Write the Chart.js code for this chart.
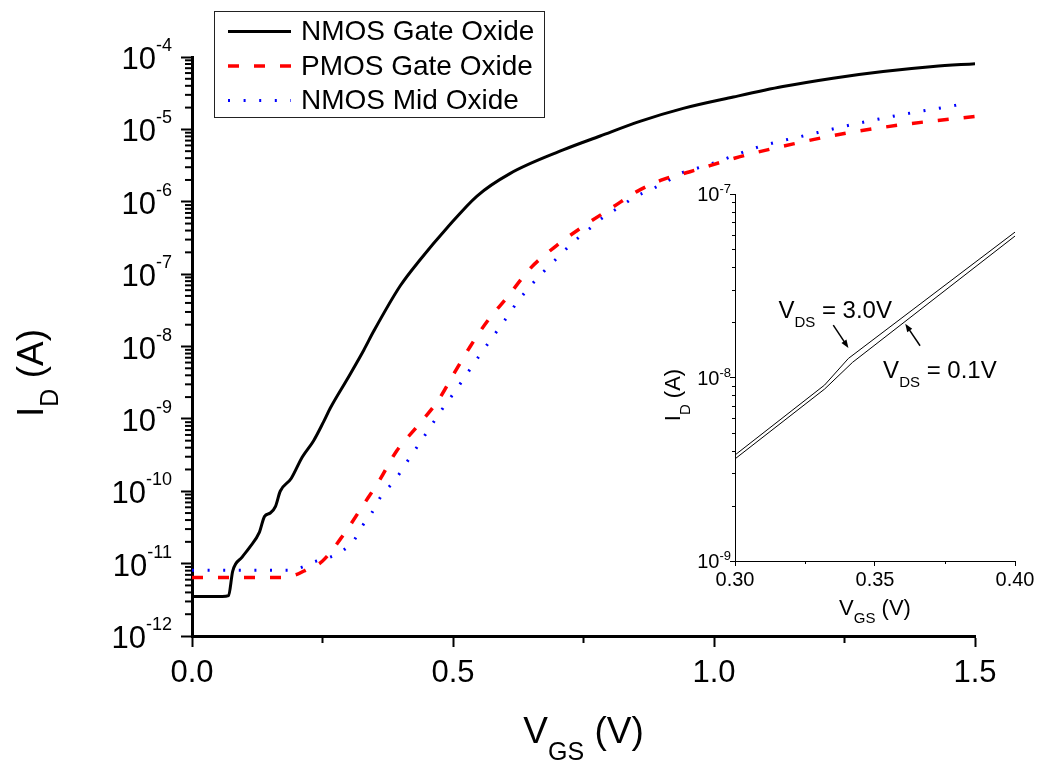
<!DOCTYPE html>
<html>
<head>
<meta charset="utf-8">
<title>ID vs VGS</title>
<script src="https://cdn.jsdelivr.net/npm/chart.js@4"></script>
<style>
html, body { margin: 0; padding: 0; background: #fff; }
#wrap { position: relative; width: 1039px; height: 763px; }
#mainChart { position: absolute; left: 0; top: 0; }
#insetChart { position: absolute; left: 640px; top: 170px; }
</style>
</head>
<body>
<div id="wrap">
  <canvas id="mainChart" width="1039" height="763"></canvas>
  <canvas id="insetChart" width="399" height="460"></canvas>
</div>
<script>
// ---- main plot data ----
const seriesNames = ['NMOS Gate Oxide', 'PMOS Gate Oxide', 'NMOS Mid Oxide'];

const vgsNmosGate = [0, 0.058, 0.07, 0.078, 0.096, 0.11, 0.129, 0.139, 0.15, 0.16, 0.169, 0.19, 0.211, 0.233, 0.252, 0.265, 0.297, 0.329, 0.348, 0.399, 0.437, 0.488, 0.546, 0.609, 0.711, 0.782, 0.858, 0.941, 1.037, 1.132, 1.228, 1.324, 1.42, 1.5];
const idNmosGate = [3.5e-12, 3.5e-12, 3.6e-12, 7.9e-12, 1.23e-11, 1.66e-11, 2.7e-11, 4.5e-11, 5.0e-11, 6.2e-11, 1.0e-10, 1.5e-10, 2.95e-10, 5.0e-10, 9.1e-10, 1.41e-9, 3.5e-9, 8.9e-9, 1.62e-8, 6.9e-8, 1.58e-7, 4.3e-7, 1.2e-6, 2.45e-6, 5.2e-6, 8.1e-6, 1.29e-5, 1.95e-5, 2.8e-5, 3.9e-5, 5.1e-5, 6.3e-5, 7.4e-5, 8.1e-5];

const vgsPmosGate = [0, 0.169, 0.201, 0.22, 0.249, 0.29, 0.329, 0.36, 0.392, 0.431, 0.472, 0.504, 0.533, 0.565, 0.603, 0.648, 0.699, 0.75, 0.807, 0.852, 0.903, 0.954, 1.05, 1.152, 1.247, 1.356, 1.5];
const idPmosGate = [6.45e-12, 6.45e-12, 7.1e-12, 8.3e-12, 1.07e-11, 2.5e-11, 6.6e-11, 1.45e-10, 3.6e-10, 7.8e-10, 1.82e-9, 4.5e-9, 1.0e-8, 2.2e-8, 4.7e-8, 1.2e-7, 2.5e-7, 4.6e-7, 8.5e-7, 1.38e-6, 2.04e-6, 2.6e-6, 4.2e-6, 6.3e-6, 8.7e-6, 1.15e-5, 1.51e-5];

const vgsNmosMid = [0, 0.19, 0.21, 0.236, 0.265, 0.287, 0.309, 0.325, 0.345, 0.362, 0.381, 0.399, 0.415, 0.435, 0.455, 0.475, 0.496, 0.517, 0.537, 0.557, 0.579, 0.601, 0.622, 0.648, 0.673, 0.702, 0.73, 0.759, 0.789, 0.82, 0.849, 0.88, 0.909, 0.938, 0.967, 0.998, 1.088, 1.177, 1.266, 1.356, 1.445, 1.477];
const idNmosMid = [8.1e-12, 8.1e-12, 8.9e-12, 1.07e-11, 1.23e-11, 1.48e-11, 2.04e-11, 3.2e-11, 5.1e-11, 8.5e-11, 1.23e-10, 1.82e-10, 2.75e-10, 4.5e-10, 7.4e-10, 1.23e-9, 2.0e-9, 3.3e-9, 5.4e-9, 8.7e-9, 1.45e-8, 2.4e-8, 4.0e-8, 6.8e-8, 1.07e-7, 1.74e-7, 2.75e-7, 4.1e-7, 6.2e-7, 8.5e-7, 1.17e-6, 1.48e-6, 1.9e-6, 2.5e-6, 2.9e-6, 3.4e-6, 5.8e-6, 8.3e-6, 1.17e-5, 1.58e-5, 2.04e-5, 2.24e-5];

// main axes ticks
const xMajor = [0, 0.5, 1.0, 1.5];
const xMajorLabels = ['0.0', '0.5', '1.0', '1.5'];
const xMinor = [0.25, 0.75, 1.25];
const yDecades = [-12, -11, -10, -9, -8, -7, -6, -5, -4];

// ---- inset data ----
const insetNames = ['V_DS = 3.0V', 'V_DS = 0.1V'];
const vgsVds30 = [0.300, 0.332, 0.3405, 0.400];
const idVds30 = [3.78e-9, 9.1e-9, 1.27e-8, 6.2e-8];
const vgsVds01 = [0.300, 0.332, 0.342, 0.400];
const idVds01 = [3.6e-9, 8.65e-9, 1.21e-8, 5.9e-8];

const insetXMajor = [0.30, 0.35, 0.40];
const insetXLabels = ['0.30', '0.35', '0.40'];
const insetXMinor = [0.325, 0.375];
const insetDecades = [-9, -8, -7];

const FONT = '"Liberation Sans", Arial, sans-serif';

function pts(xs, ys) { return xs.map((x, i) => ({ x: x, y: ys[i] })); }

function line(ctx, x1, y1, x2, y2) {
  ctx.beginPath(); ctx.moveTo(x1, y1); ctx.lineTo(x2, y2); ctx.stroke();
}

// "10" with raised exponent, right aligned at xRight
function drawPower(ctx, xRight, y, exp, fBase, fSup, baseDy, supDy) {
  const sup = String(exp);
  ctx.font = fBase + 'px ' + FONT; const wb = ctx.measureText('10').width;
  ctx.font = fSup + 'px ' + FONT; const ws = ctx.measureText(sup).width;
  const x0 = xRight - wb - ws;
  ctx.textAlign = 'left'; ctx.textBaseline = 'alphabetic';
  ctx.font = fBase + 'px ' + FONT; ctx.fillText('10', x0, y + baseDy);
  ctx.font = fSup + 'px ' + FONT; ctx.fillText(sup, x0 + wb, y + supDy);
}

// text pieces with subscripts: [text, size, dy]
function drawParts(ctx, parts, x, y, align) {
  let total = 0;
  const ws = parts.map(p => { ctx.font = p[1] + 'px ' + FONT; const w = ctx.measureText(p[0]).width; total += w; return w; });
  let cx = align === 'left' ? x : x - total / 2;
  ctx.textAlign = 'left'; ctx.textBaseline = 'alphabetic';
  parts.forEach((p, i) => { ctx.font = p[1] + 'px ' + FONT; ctx.fillText(p[0], cx, y + p[2]); cx += ws[i]; });
}

function arrow(ctx, x1, y1, x2, y2) {
  const a = Math.atan2(y2 - y1, x2 - x1), len = 8, half = 3;
  ctx.beginPath(); ctx.moveTo(x1, y1); ctx.lineTo(x2 - Math.cos(a) * len * 0.8, y2 - Math.sin(a) * len * 0.8); ctx.stroke();
  ctx.beginPath();
  ctx.moveTo(x2, y2);
  ctx.lineTo(x2 - Math.cos(a) * len - Math.sin(a) * half, y2 - Math.sin(a) * len + Math.cos(a) * half);
  ctx.lineTo(x2 - Math.cos(a) * len + Math.sin(a) * half, y2 - Math.sin(a) * len - Math.cos(a) * half);
  ctx.closePath(); ctx.fill();
}

const mainDecor = {
  id: 'mainDecor',
  afterDraw(chart) {
    const ctx = chart.ctx, xs = chart.scales.x, ys = chart.scales.y, area = chart.chartArea;
    ctx.save();
    ctx.strokeStyle = '#000'; ctx.fillStyle = '#000'; ctx.lineWidth = 2;
    // minor ticks
    yDecades.slice(0, -1).forEach(e => {
      for (let m = 2; m <= 9; m++) {
        const py = ys.getPixelForValue(m * Math.pow(10, e));
        line(ctx, area.left - 7, py, area.left, py);
      }
    });
    xMinor.forEach(v => { const px = xs.getPixelForValue(v); line(ctx, px, area.bottom, px, area.bottom + 7); });
    // tick labels
    yDecades.forEach(e => drawPower(ctx, area.left - 20, ys.getPixelForValue(Math.pow(10, e)), e, 31, 18, 12, -6));
    ctx.font = '31px ' + FONT; ctx.textAlign = 'center'; ctx.textBaseline = 'alphabetic';
    xMajor.forEach((v, i) => ctx.fillText(xMajorLabels[i], xs.getPixelForValue(v), area.bottom + 46));
    // axis titles
    drawParts(ctx, [['V', 37, 0], ['GS', 25, 17], [' (V)', 37, 0]], (area.left + area.right) / 2, area.bottom + 107);
    ctx.save();
    ctx.translate(43, 373); ctx.rotate(-Math.PI / 2);
    drawParts(ctx, [['I', 37, 0], ['D', 25, 15], [' (A)', 37, 0]], 0, 0);
    ctx.restore();
    // legend
    ctx.lineWidth = 1; ctx.strokeStyle = '#222';
    ctx.strokeRect(214.5, 11.5, 330, 106);
    const ds = chart.data.datasets;
    ds.forEach((d, i) => {
      const by = 40 + i * 34.5, ly = by - 8.5;
      ctx.save();
      ctx.strokeStyle = d.borderColor; ctx.lineWidth = d.borderWidth;
      ctx.setLineDash(d.borderDash || []);
      line(ctx, 228, ly, 291, ly);
      ctx.restore();
      ctx.fillStyle = '#000'; ctx.font = '28px ' + FONT; ctx.textAlign = 'left';
      ctx.fillText(d.label, 301, by);
    });
    ctx.restore();
  }
};

const mainChart = new Chart(document.getElementById('mainChart'), {
  type: 'line',
  data: {
    datasets: [
      { label: seriesNames[0], data: pts(vgsNmosGate, idNmosGate), borderColor: '#000000', borderWidth: 3, pointRadius: 0, cubicInterpolationMode: 'monotone', fill: false },
      { label: seriesNames[1], data: pts(vgsPmosGate, idPmosGate), borderColor: '#ff0000', borderWidth: 3.5, borderDash: [11, 15], pointRadius: 0, cubicInterpolationMode: 'monotone', fill: false },
      { label: seriesNames[2], data: pts(vgsNmosMid, idNmosMid), borderColor: '#0000ff', borderWidth: 3, borderDash: [2, 13.6], pointRadius: 0, cubicInterpolationMode: 'monotone', fill: false }
    ]
  },
  options: {
    responsive: false, animation: false, events: [],
    layout: { padding: { top: 57, right: 64, left: 0, bottom: 0 } },
    plugins: { legend: { display: false }, tooltip: { enabled: false } },
    scales: {
      x: {
        type: 'linear', min: 0, max: 1.5,
        afterBuildTicks: s => { s.ticks = xMajor.map(v => ({ value: v })); },
        afterFit: s => { s.height = 127; },
        ticks: { display: false, autoSkip: false },
        grid: { display: true, drawOnChartArea: false, drawTicks: true, tickLength: 11, tickWidth: 2, tickColor: '#000' },
        border: { display: true, color: '#000', width: 3 }
      },
      y: {
        type: 'logarithmic', min: 1e-12, max: 1e-4,
        afterBuildTicks: s => { s.ticks = yDecades.map(e => ({ value: Math.pow(10, e), major: true })); },
        afterFit: s => { s.width = 192; },
        ticks: { display: false, autoSkip: false },
        grid: { display: true, drawOnChartArea: false, drawTicks: true, tickLength: 11, tickWidth: 2, tickColor: '#000' },
        border: { display: true, color: '#000', width: 3 }
      }
    }
  },
  plugins: [mainDecor]
});

// annotation anchors in inset data coordinates
const insetText = [[0.3155, 2.11e-8], [0.3529, 9.94e-9]];
const insetArrows = [[0.3351, 1.93e-8, 0.3405, 1.45e-8], [0.3661, 1.49e-8, 0.3608, 1.96e-8]];

const insetDecor = {
  id: 'insetDecor',
  afterDraw(chart) {
    const ctx = chart.ctx, xs = chart.scales.x, ys = chart.scales.y, area = chart.chartArea;
    ctx.save();
    ctx.strokeStyle = '#000'; ctx.fillStyle = '#000'; ctx.lineWidth = 1;
    insetDecades.slice(0, -1).forEach(e => {
      for (let m = 2; m <= 9; m++) {
        const py = Math.round(ys.getPixelForValue(m * Math.pow(10, e))) + 0.5;
        line(ctx, area.left - 3, py, area.left, py);
      }
    });
    insetXMinor.forEach(v => { const px = Math.round(xs.getPixelForValue(v)) + 0.5; line(ctx, px, area.bottom, px, area.bottom + 3); });
    insetDecades.forEach(e => drawPower(ctx, area.left - 4, ys.getPixelForValue(Math.pow(10, e)), e, 20, 13, 7, -1));
    ctx.font = '20px ' + FONT; ctx.textAlign = 'center'; ctx.textBaseline = 'alphabetic';
    insetXMajor.forEach((v, i) => ctx.fillText(insetXLabels[i], xs.getPixelForValue(v), area.bottom + 25));
    drawParts(ctx, [['V', 22, 0], ['GS', 15, 8], [' (V)', 22, 0]], (area.left + area.right) / 2, area.bottom + 54);
    ctx.save();
    ctx.translate(40, 225); ctx.rotate(-Math.PI / 2);
    drawParts(ctx, [['I', 22, 0], ['D', 15, 10], [' (A)', 22, 0]], 0, 0);
    ctx.restore();
    // V_DS labels and arrows
    insetNames.forEach((n, i) => {
      const val = n.split('= ')[1];
      drawParts(ctx, [['V', 24, 0], ['DS', 15, 9], [' = ' + val, 24, 0]],
        xs.getPixelForValue(insetText[i][0]), ys.getPixelForValue(insetText[i][1]), 'left');
      const a = insetArrows[i];
      ctx.lineWidth = 1.5;
      arrow(ctx, xs.getPixelForValue(a[0]), ys.getPixelForValue(a[1]), xs.getPixelForValue(a[2]), ys.getPixelForValue(a[3]));
    });
    ctx.restore();
  }
};

const insetChart = new Chart(document.getElementById('insetChart'), {
  type: 'line',
  data: {
    datasets: [
      { label: insetNames[0], data: pts(vgsVds30, idVds30), borderColor: '#000', borderWidth: 1, pointRadius: 0, tension: 0, fill: false },
      { label: insetNames[1], data: pts(vgsVds01, idVds01), borderColor: '#000', borderWidth: 1, pointRadius: 0, tension: 0, fill: false }
    ]
  },
  options: {
    responsive: false, animation: false, events: [],
    layout: { padding: { top: 24, right: 24, left: 0, bottom: 0 } },
    plugins: { legend: { display: false }, tooltip: { enabled: false } },
    scales: {
      x: {
        type: 'linear', min: 0.30, max: 0.40,
        afterBuildTicks: s => { s.ticks = insetXMajor.map(v => ({ value: v })); },
        afterFit: s => { s.height = 69; },
        ticks: { display: false, autoSkip: false },
        grid: { display: true, drawOnChartArea: false, drawTicks: true, tickLength: 5, tickWidth: 1, tickColor: '#000' },
        border: { display: true, color: '#000', width: 1 }
      },
      y: {
        type: 'logarithmic', min: 1e-9, max: 1e-7,
        afterBuildTicks: s => { s.ticks = insetDecades.map(e => ({ value: Math.pow(10, e), major: true })); },
        afterFit: s => { s.width = 95; },
        ticks: { display: false, autoSkip: false },
        grid: { display: true, drawOnChartArea: false, drawTicks: true, tickLength: 5, tickWidth: 1, tickColor: '#000' },
        border: { display: true, color: '#000', width: 1 }
      }
    }
  },
  plugins: [insetDecor]
});
</script>
</body>
</html>
